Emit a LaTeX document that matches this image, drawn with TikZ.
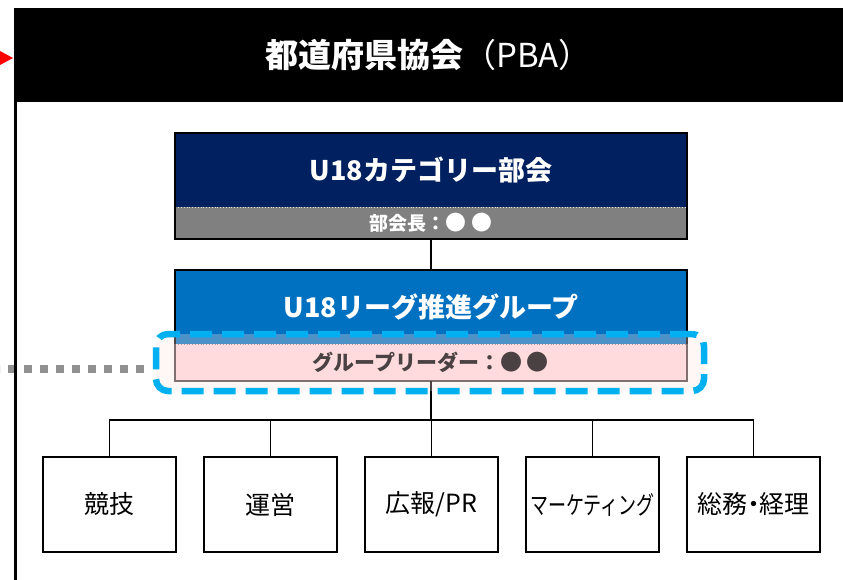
\documentclass[tikz,border=0pt]{standalone}
\usepackage{fontspec}
\setmainfont{Noto Sans CJK JP}
\newfontfamily\jpprop{Noto Sans CJK JP}[RawFeature=+palt]
\usetikzlibrary{positioning}
\definecolor{navy}{HTML}{002060}
\definecolor{midgray}{HTML}{808080}
\definecolor{ublue}{HTML}{0070C0}
\definecolor{pinkbox}{HTML}{FFDADC}
\definecolor{pinkfill}{HTML}{FFE0E0}
\definecolor{cyanline}{HTML}{00B0F0}
\definecolor{leadtext}{HTML}{4A4242}
\definecolor{leadborder}{HTML}{4A4040}
\definecolor{dotgray}{HTML}{909090}
\begin{document}
\begin{tikzpicture}[x=1pt,y=-1pt,
  unitbox/.style={draw=black, line width=2pt, fill=white, minimum width=133pt, minimum height=95pt, inner sep=0pt, font=\fontsize{25}{29}\selectfont},
  band/.style={minimum width=511pt, inner sep=0pt, text=white, font=\bfseries\fontsize{27}{32}\selectfont},
  subband/.style={minimum width=511pt, inner sep=0pt, font=\bfseries\fontsize{19}{23}\selectfont},
  conn/.style={draw=black, line width=1.8pt},
  frame/.style={draw=black, line width=2pt},
  sepline/.style={draw=white!75!gray, line width=0.8pt, dotted},
  leadbox/.style={draw=cyanline, line width=6.5pt, dash pattern=on 22pt off 10pt, rounded corners=12pt, fill=pinkfill, fill opacity=0.3, minimum width=548pt, minimum height=57pt, inner sep=0pt},
  graydots/.style={draw=dotgray, line width=7.5pt, dash pattern=on 7.7pt off 8.3pt}
]
\useasboundingbox (0,0) rectangle (843,580);

% header
\node[fill=black, minimum width=829pt, minimum height=94pt, inner sep=0pt, text=white, font=\fontsize{33}{38}\selectfont] (pba) at (428.5,55) {{\bfseries 都道府県協会}（PBA）};

% red arrow head
\fill[red] (0,51) -- (13,58) -- (0,65) -- cycle;

% U18 category committee
\node[band, fill=navy, minimum height=74pt] (catTop) at (431,170) {U18カテゴリー部会};
\node[subband, fill=midgray, minimum height=32pt, text=white] (catBot) at (431,223) {部会長：\scalebox{1.1}{●\kern4pt●}};
\draw[sepline] (catTop.south west) -- (catTop.south east);
\draw[frame] (catTop.north west) rectangle (catBot.south east);

% U18 league promotion group
\node[band, fill=ublue, minimum height=74pt] (grpTop) at (431,307) {U18リーグ推進グループ};
\node[subband, fill=pinkbox, minimum height=37pt] (grpBot) at (431,362.5) {};
\draw[sepline, draw=gray] (grpTop.south west) -- (grpTop.south east);
\draw[frame] (grpTop.south west) -- (grpTop.north west) -- (grpTop.north east) -- (grpTop.south east);
\draw[frame, draw=leadborder] (grpBot.north west) -- (grpBot.south west) -- (grpBot.south east) -- (grpBot.north east);

% connectors top
\draw[conn] (catBot.south) -- (grpTop.north);

% units
\node[unitbox] (b1) at (109.5,504.5) {競技};
\node[unitbox] (b2) at (270.5,504.5) {運営};
\node[unitbox] (b3) at (431.5,504.5) {広報/PR};
\node[unitbox] (b4) at (592.5,504.5) {\scalebox{0.72}[1]{マーケティング}};
\node[unitbox] (b5) at (753.5,504.5) {\jpprop 総務・経理};

\coordinate (bus) at (431,420);
\draw[conn] (grpBot.south) -- (bus);
\draw[conn] (b1.north) |- (bus) -| (b5.north);
\draw[conn] (b2.north) -- (b2.north |- bus);
\draw[conn] (b3.north) -- (b3.north |- bus);
\draw[conn] (b4.north) -- (b4.north |- bus);

% leader highlight
\node[leadbox] (lead) at (430,362.5) {};
\node[text=leadtext, inner sep=0pt, font=\bfseries\fontsize{21}{25}\selectfont] (leadtxt) at (grpBot.center) {グループリーダー：\scalebox{1.05}{●\kern4pt●}};

% gray dotted line
\coordinate (dotL) at (0,369);
\coordinate (dotR) at (144,369);
\draw[graydots] (dotR) -- (dotL);

% left vertical line
\coordinate (vtop) at (15.5,102);
\coordinate (vbot) at (15.5,580);
\draw[line width=3pt] (vtop) -- (vbot);
\end{tikzpicture}
\end{document}
